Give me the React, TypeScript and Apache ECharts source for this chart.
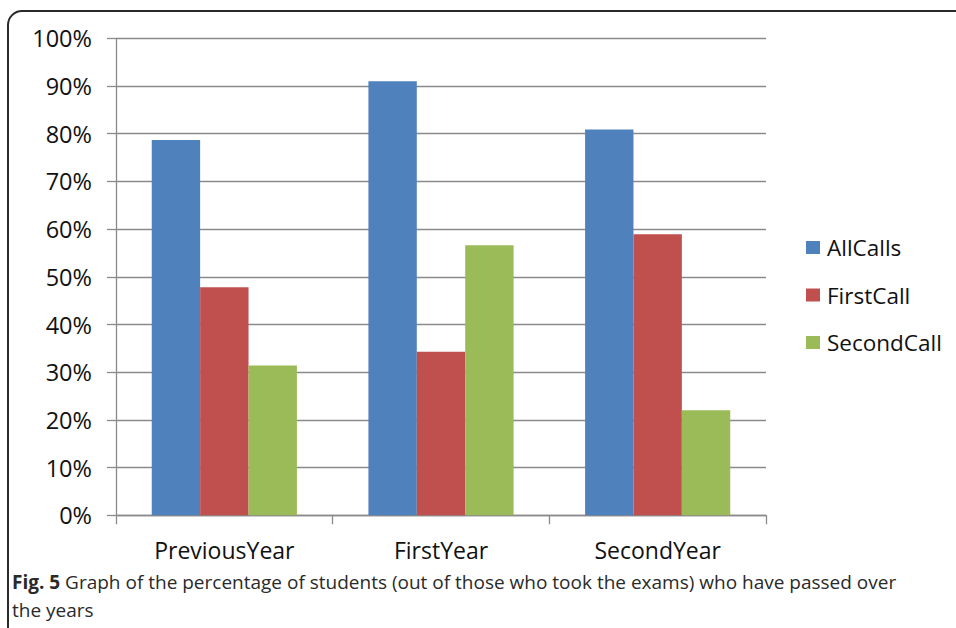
import React, { useEffect, useRef } from "react";
import * as echarts from "echarts";

const categories = ["PreviousYear", "FirstYear", "SecondYear"];
const allCalls = [78.7, 91.0, 80.9];
const firstCall = [47.8, 34.3, 58.9];
const secondCall = [31.4, 56.6, 22.0];
const seriesNames = ["AllCalls", "FirstCall", "SecondCall"];
const colors = ["#4F81BD", "#C0504D", "#9BBB59"];
const captionBold = "Fig. 5";
const captionLine1 = " Graph of the percentage of students (out of those who took the exams) who have passed over";
const captionLine2 = "the years";

const FONT = "'Open Sans', sans-serif";

export default function App() {
  const ref = useRef<HTMLDivElement>(null);
  useEffect(() => {
    if (!ref.current) return;
    const chart = echarts.init(ref.current, undefined, { renderer: "svg" });
    const values = [allCalls, firstCall, secondCall];
    chart.setOption({
      animation: false,
      backgroundColor: "#ffffff",
      textStyle: { fontFamily: FONT },
      grid: { left: 116, right: 190, top: 38.3, bottom: 112.7 },
      legend: {
        orient: "vertical",
        left: 806,
        top: 236,
        padding: 0,
        itemWidth: 14,
        itemHeight: 13,
        itemGap: 24.5,
        icon: "rect",
        data: seriesNames,
        textStyle: { fontSize: 22.5, color: "#111111", fontFamily: FONT, lineHeight: 20, padding: [0, 0, 0, 2] },
      },
      xAxis: {
        type: "category",
        data: categories,
        axisLine: { lineStyle: { color: "#8a8a8a", width: 1.3 } },
        axisTick: { show: true, length: 9, lineStyle: { color: "#8a8a8a", width: 1.3 } },
        axisLabel: { fontSize: 23, color: "#111111", margin: 23, fontFamily: FONT },
      },
      yAxis: {
        type: "value",
        min: 0,
        max: 100,
        interval: 10,
        axisLine: { show: true, lineStyle: { color: "#8a8a8a", width: 1.3 } },
        axisTick: { show: true, length: 9, lineStyle: { color: "#8a8a8a", width: 1.3 } },
        splitLine: { show: true, lineStyle: { color: "#8a8a8a", width: 1.3 } },
        axisLabel: { fontSize: 23.5, color: "#111111", margin: 24, fontFamily: FONT, formatter: "{value}%" },
      },
      series: values.map((v, i) => ({
        type: "bar",
        name: seriesNames[i],
        data: v,
        barGap: "0%",
        barCategoryGap: "33%",
        itemStyle: { color: colors[i] },
      })),
      graphic: [
        {
          type: "rect",
          shape: { x: 8, y: 11, width: 1100, height: 800, r: 14 },
          style: { fill: "none", stroke: "#2a2a2a", lineWidth: 2 },
          silent: true,
        },
        {
          type: "text",
          x: 12,
          y: 572,
          style: {
            text: "{b|" + captionBold + "}" + captionLine1,
            fontSize: 19,
            fontFamily: FONT,
            fill: "#2a2a2a",
            rich: { b: { fontWeight: "bold", fontSize: 19, fontFamily: FONT, fill: "#2a2a2a" } },
          },
        },
        {
          type: "text",
          x: 12,
          y: 600,
          style: { text: captionLine2, fontSize: 19, fontFamily: FONT, fill: "#2a2a2a" },
        },
      ],
    });
    return () => chart.dispose();
  }, []);
  return (
    <div
      ref={ref}
      style={{ position: "fixed", left: 0, top: 0, width: 956, height: 628 }}
    />
  );
}
